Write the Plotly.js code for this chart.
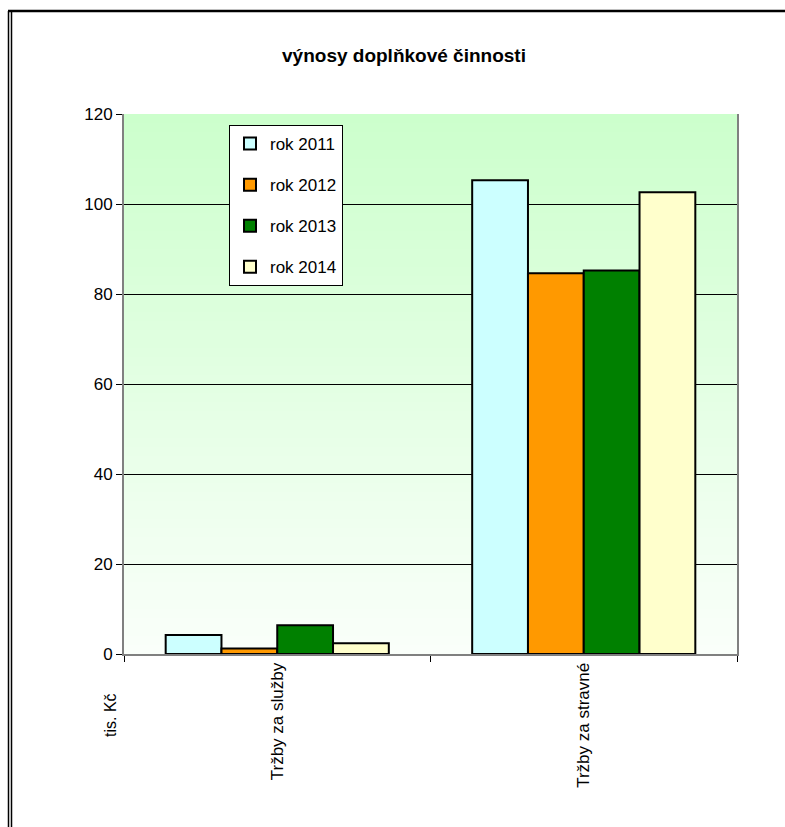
<!DOCTYPE html>
<html>
<head>
<meta charset="utf-8">
<script src="https://cdn.plot.ly/plotly-3.0.1.min.js"></script>
<style>html,body{margin:0;padding:0;background:#fff;}#chart{width:785px;height:827px;}</style>
</head>
<body>
<div id="chart"></div>
<script>
// Data
const categories = ["Tržby za služby", "Tržby za stravné"];
const seriesNames = ["rok 2011", "rok 2012", "rok 2013", "rok 2014"];
const rok2011 = [4.2, 105.3];
const rok2012 = [1.2, 84.6];
const rok2013 = [6.4, 85.2];
const rok2014 = [2.4, 102.6];
const yTickVals = [0, 20, 40, 60, 80, 100, 120];
const titleText = "výnosy doplňkové činnosti";
const yUnitText = "tis. Kč";

const seriesValues = [rok2011, rok2012, rok2013, rok2014];
const seriesColors = ["#ccffff", "#ff9900", "#008000", "#ffffcc"];
const FONT = "Liberation Sans, Arial, sans-serif";

const traces = seriesNames.map((name, i) => ({
  type: "bar",
  name: name,
  x: categories,
  y: seriesValues[i],
  legendgroup: "g" + i,
  marker: { color: seriesColors[i], line: { color: "#000", width: 2 } },
  hoverinfo: "none"
}));

// Plot area gradient bands (style only)
const shapes = [];
const nBands = 60;
const gradTop = [204, 255, 204], gradBot = [250, 255, 250];
for (let b = 0; b < nBands; b++) {
  const t = b / (nBands - 1);
  const c = gradTop.map((v, k) => Math.round(gradBot[k] + (v - gradBot[k]) * t));
  shapes.push({
    type: "rect", layer: "below", xref: "paper", yref: "paper",
    x0: 0, x1: 1, y0: b / nBands, y1: (b + 1) / nBands,
    line: { width: 0 }, fillcolor: `rgb(${c[0]},${c[1]},${c[2]})`
  });
}
// outer frame lines (pixel positions converted to paper coords)
const PL = 124, PR = 737, PT = 114, PB = 654;
const px = x => (x - PL) / (PR - PL);
const py = y => (PB - y) / (PB - PT);
shapes.push({ type: "line", xref: "paper", yref: "paper", x0: px(8.5), x1: px(8.5), y0: py(11), y1: py(830), line: { color: "#000", width: 1.5 } });
shapes.push({ type: "line", xref: "paper", yref: "paper", x0: px(11.5), x1: px(11.5), y0: py(11), y1: py(830), line: { color: "#000", width: 1.5 } });
shapes.push({ type: "line", xref: "paper", yref: "paper", x0: px(8), x1: px(790), y0: py(11), y1: py(11), line: { color: "#000", width: 2.5 } });

const layout = {
  width: 785, height: 827,
  margin: { l: PL, r: 785 - PR, t: PT, b: 827 - PB, pad: 0 },
  paper_bgcolor: "#fff",
  plot_bgcolor: "rgba(0,0,0,0)",
  font: { family: FONT, color: "#000", size: 17 },
  title: {
    text: "<b>" + titleText + "</b>",
    font: { family: FONT, size: 19, color: "#000" },
    x: 404 / 785, xanchor: "center", xref: "container",
    y: 1 - 55 / 827, yanchor: "middle", yref: "container"
  },
  barmode: "group",
  bargap: 0.272,
  bargroupgap: 0,
  showlegend: true,
  legend: {
    x: px(229), y: py(125), xanchor: "left", yanchor: "top",
    bgcolor: "#fff", bordercolor: "#000", borderwidth: 1,
    font: { family: FONT, size: 17, color: "#000" },
    traceorder: "grouped", tracegroupgap: 16
  },
  xaxis: {
    type: "category",
    tickson: "boundaries",
    ticks: "outside", ticklen: 6, tickcolor: "#000", tickwidth: 1,
    tickangle: -90,
    tickfont: { family: FONT, size: 17, color: "#000" },
    showline: true, linecolor: "#808080", linewidth: 2,
    showgrid: false, zeroline: false, fixedrange: true
  },
  yaxis: {
    range: [0, 120],
    tickvals: yTickVals,
    ticktext: yTickVals.map(String),
    ticks: "outside", ticklen: 6, tickcolor: "#000", tickwidth: 1,
    tickfont: { family: FONT, size: 17, color: "#000" },
    showline: true, linecolor: "#808080", linewidth: 2, mirror: true,
    showgrid: true, gridcolor: "#000", gridwidth: 1,
    zeroline: false, fixedrange: true
  },
  shapes: shapes,
  annotations: [{
    text: yUnitText, xref: "paper", yref: "paper",
    x: px(110), y: py(715), xanchor: "center", yanchor: "middle",
    textangle: -90, showarrow: false,
    font: { family: FONT, size: 16, color: "#000" }
  }]
};

Plotly.newPlot("chart", traces, layout, { displayModeBar: false, staticPlot: true });
</script>
</body>
</html>
